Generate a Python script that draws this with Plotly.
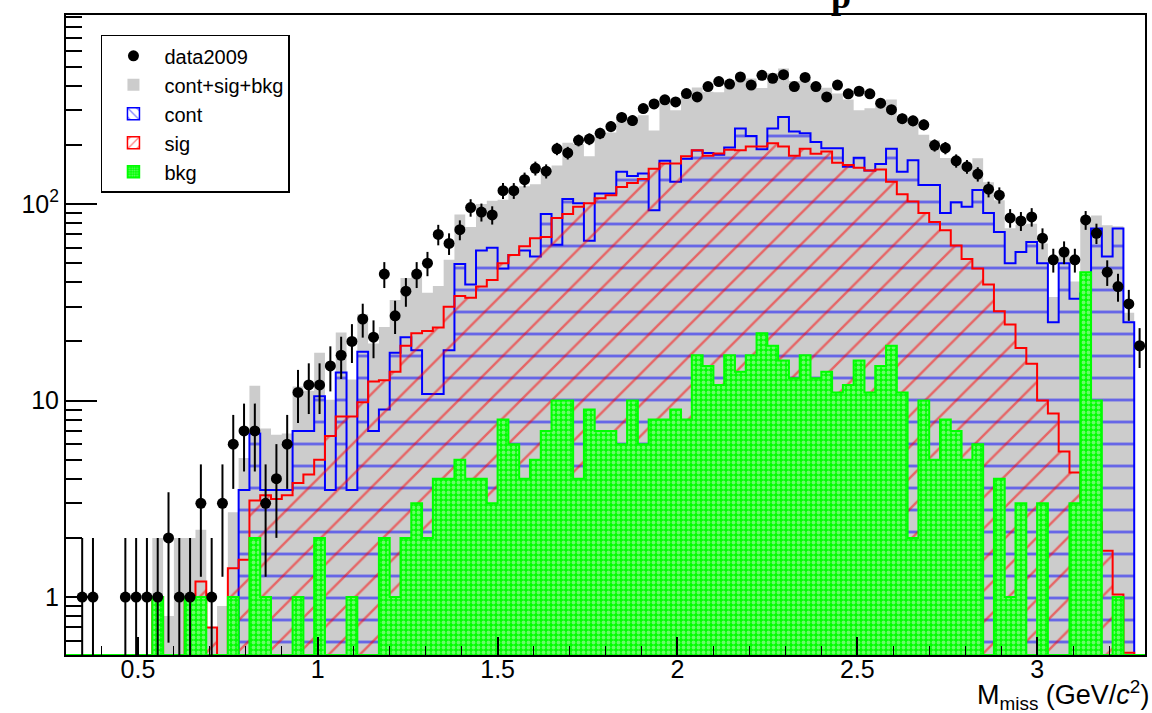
import numpy as np
import plotly.graph_objects as go

# ---------------- data (100 bins of 0.03 GeV/c^2 from 0.3 to 3.3) ----------------
x_lo, x_hi, n_bins = 0.3, 3.3, 100

data2009 = [0, 1, 1, 0, 0, 1, 1, 1, 1, 2,
            1, 1, 3, 1, 3, 6, 7, 7, 3, 4,
            6, 11, 12, 12, 15, 17, 20, 26, 21, 44,
            27, 36, 44, 50, 70, 63, 74, 96, 91, 88,
            117, 117, 133, 152, 147, 191, 182, 211, 214, 229,
            248, 276, 266, 306, 323, 339, 331, 365, 351, 396,
            420, 408, 443, 403, 452, 436, 455, 396, 441, 396,
            351, 403, 364, 375, 364, 326, 302, 272, 265, 253,
            199, 193, 166, 155, 142, 119, 111, 85, 82, 86,
            67, 52, 57, 52, 83, 71, 45, 38, 31, 19]

cont = [0, 0, 0, 0, 0, 0, 0, 0, 0, 0,
        0, 0, 0, 0, 0, 0.3, 3.5, 6.8, 3.5, 3.5,
        3.5, 7, 7, 10.5, 3.5, 13.9, 3.5, 17.7, 7, 9,
        17.5, 21, 18, 10.8, 10.8, 18, 49.5, 39, 58, 60,
        47, 55, 58, 54, 89, 62, 106, 101, 65, 113,
        113, 146, 139, 143, 93, 166, 130, 170, 187, 182,
        178, 194, 242, 222, 190, 242, 277, 234, 229, 207,
        192, 192, 155, 172, 148, 160, 191, 146, 167, 125,
        125, 90, 102, 97, 118, 90, 72, 50, 57, 64,
        50, 25, 50, 33, 35, 75, 54, 75, 25, 0]

sig = [0, 0, 0, 0, 0, 0, 0, 0, 1.0, 0.4,
       0.4, 1.0, 1.2, 0.7, 0.3, 1.4, 1.55, 3.1, 3.3, 3.15,
       3.3, 3.8, 4.2, 5.0, 6.6, 8.3, 8.3, 9.8, 12.5, 12.7,
       14, 19, 22, 22.6, 23.5, 30, 34, 33.3, 38, 41,
       50, 55, 61, 67, 68, 85, 89, 97, 101, 107,
       111, 122, 128, 134, 151, 161, 161, 175, 188, 176,
       181, 189, 188, 196, 196, 204, 196, 176, 191, 180,
       185, 162, 158, 153, 148, 150, 130, 112, 103, 90,
       81, 73.5, 61.6, 52.5, 47, 39, 28.5, 24.4, 18.5, 15.4,
       10, 8.6, 5.5, 4.3, 3.2, 2.4, 1.72, 1.03, 0.52, 0]

bkg = [0, 0, 0, 0, 0, 0, 0, 0, 1, 0,
       0, 1, 1, 0, 0, 1, 0, 2, 1, 0,
       0, 1, 0, 2, 0, 0, 1, 0, 0, 2,
       1, 2, 3, 2, 4, 4, 5, 4, 4, 3,
       8, 6, 4, 5, 7, 10, 10, 4, 9, 7,
       7, 6, 10, 6, 8, 8, 9, 8, 17, 15,
       12, 17, 14, 17, 22, 19, 16, 13, 17, 13,
       14, 11, 12, 16, 11, 15, 19, 11, 2, 10,
       5, 8, 7, 5, 6, 0, 4, 1, 3, 0,
       3, 0, 0, 3, 45, 10, 0, 1, 0, 0]

total = [0, 0, 0, 0, 0, 0, 0, 0, 2.0, 0.8,
         2.0, 2.0, 2.2, 0.7, 0.9, 2.7, 5.1, 11.9, 7.2, 6.7,
         6.8, 11.8, 11.2, 17.5, 10.1, 22.2, 12.8, 27.5, 19.5, 23.7,
         32.5, 42, 43, 35.4, 38.3, 52, 88.5, 76.3, 100, 104,
         105, 116, 123, 126, 150, 157, 205, 202, 175, 227,
         231, 274, 277, 283, 237, 335, 300, 353, 392, 373,
         371, 400, 444, 435, 390, 465, 489, 423, 437, 400,
         391, 365, 340, 300, 307, 325, 340, 269, 272, 225,
         211, 171.5, 170.6, 154.5, 171, 129, 104.5, 75.4, 78.5, 79.4,
         63, 33.6, 55.5, 40.3, 83.2, 87.4, 78, 77, 28, 0]

x_ticks_major = [0.5, 1, 1.5, 2, 2.5, 3]
y_ticks_major = [1, 10, 100]
y_tick_text = ["1", "10", "10<sup>2</sup>"]
y_ticks_minor = [0.6, 0.7, 0.8, 0.9, 2, 3, 4, 5, 6, 7, 8, 9,
                 20, 30, 40, 50, 60, 70, 80, 90, 200, 300, 400, 500, 600, 700, 800, 900]

# ---------------- geometry helpers ----------------
y_log_range = [-0.295, 2.962]
y_floor = 10 ** y_log_range[0]
edges = x_lo + (x_hi - x_lo) / n_bins * np.arange(n_bins + 1)
centers = 0.5 * (edges[:-1] + edges[1:])


def step_xy(vals):
    v = np.maximum(np.asarray(vals, dtype=float), y_floor)
    return edges, np.append(v, v[-1])


FONT = "Liberation Sans, Arial, Helvetica, sans-serif"
GRAY = "#cccccc"
BLUE = "#0000ff"
RED = "#ff0000"
GREEN = "#00ff00"
DOT = "#d2f7d2"

fig = go.Figure()

# gray total (cont+sig+bkg)
xs, ys = step_xy(total)
fig.add_trace(go.Scatter(x=xs, y=ys, mode="lines", line=dict(width=0, shape="hv", color=GRAY),
                         fill="tozeroy", fillcolor=GRAY, showlegend=False, hoverinfo="skip"))
# cont (blue hatch)
xs, ys = step_xy(cont)
fig.add_trace(go.Scatter(x=xs, y=ys, mode="lines", line=dict(width=2, shape="hv", color=BLUE),
                         fill="tozeroy", fillcolor="rgba(0,0,0,0)",
                         fillpattern=dict(shape="-", fgcolor=BLUE, bgcolor="rgba(0,0,0,0)",
                                          size=22, solidity=0.13),
                         showlegend=False, hoverinfo="skip"))
# sig (red hatch)
xs, ys = step_xy(sig)
fig.add_trace(go.Scatter(x=xs, y=ys, mode="lines", line=dict(width=2, shape="hv", color=RED),
                         fill="tozeroy", fillcolor="rgba(0,0,0,0)",
                         fillpattern=dict(shape="/", fgcolor=RED, bgcolor="rgba(0,0,0,0)",
                                          size=22, solidity=0.11),
                         showlegend=False, hoverinfo="skip"))
# bkg (green dotted)
xs, ys = step_xy(bkg)
fig.add_trace(go.Scatter(x=xs, y=ys, mode="lines", line=dict(width=2, shape="hv", color=GREEN),
                         fill="tozeroy", fillcolor=GREEN,
                         fillpattern=dict(shape=".", fgcolor=DOT, bgcolor=GREEN,
                                          size=5, solidity=0.45),
                         showlegend=False, hoverinfo="skip"))

# data points
dvals = np.asarray(data2009, dtype=float)
dplot = np.where(dvals > 0, dvals, np.nan)
derr = np.sqrt(dvals)
fig.add_trace(go.Scatter(x=centers, y=dplot, mode="markers", name="data2009",
                         marker=dict(color="black", size=11, symbol="circle"),
                         error_y=dict(type="data", array=derr, visible=True, color="black",
                                      thickness=2, width=0),
                         legendrank=1, hoverinfo="skip"))

# legend entries for the histograms
fig.add_trace(go.Bar(x=[None], y=[None], name="cont+sig+bkg", legendrank=2,
                     marker=dict(color=GRAY, line=dict(width=0))))
fig.add_trace(go.Bar(x=[None], y=[None], name="cont", legendrank=3,
                     marker=dict(color="white", line=dict(color=BLUE, width=1.5),
                                 pattern=dict(shape="\\", fgcolor=BLUE, bgcolor="white",
                                              size=8, solidity=0.2))))
fig.add_trace(go.Bar(x=[None], y=[None], name="sig", legendrank=4,
                     marker=dict(color="white", line=dict(color=RED, width=1.5),
                                 pattern=dict(shape="/", fgcolor=RED, bgcolor="white",
                                              size=8, solidity=0.2))))
fig.add_trace(go.Bar(x=[None], y=[None], name="bkg", legendrank=5,
                     marker=dict(color=GREEN, line=dict(color=GREEN, width=1.5),
                                 pattern=dict(shape=".", fgcolor=DOT, bgcolor=GREEN,
                                              size=3, solidity=0.4))))

fig.update_layout(
    width=1152, height=713,
    margin=dict(l=66, r=5, t=15, b=58),
    paper_bgcolor="white", plot_bgcolor="white",
    font=dict(family=FONT, color="black"),
    barmode="overlay",
    hovermode=False,
    showlegend=True,
    legend=dict(x=0.0324, y=0.969, xanchor="left", yanchor="top",
                bgcolor="white", bordercolor="black", borderwidth=1.5,
                font=dict(size=20, family=FONT, color="black"),
                itemwidth=52, tracegroupgap=0),
    xaxis=dict(range=[x_lo, x_hi], showgrid=False, zeroline=False,
               showline=True, linecolor="black", linewidth=2, mirror=True,
               ticks="inside", tickvals=x_ticks_major, ticklen=18, tickwidth=1.5, tickcolor="black",
               tickfont=dict(size=25, family=FONT, color="black"),
               ticklabelstandoff=-9,
               minor=dict(dtick=0.1, tick0=0, ticks="inside", ticklen=9, tickwidth=1.2,
                          tickcolor="black", showgrid=False)),
    yaxis=dict(type="log", range=y_log_range, showgrid=False, zeroline=False,
               showline=True, linecolor="black", linewidth=2, mirror=True,
               ticks="inside", tickvals=y_ticks_major, ticktext=y_tick_text,
               ticklen=31, tickwidth=1.5, tickcolor="black",
               tickfont=dict(size=25, family=FONT, color="black"),
               minor=dict(tickvals=y_ticks_minor, ticks="inside", ticklen=16, tickwidth=1.5,
                          tickcolor="black", showgrid=False)),
)

# x-axis title, right aligned as in ROOT
fig.add_annotation(text="M<sub>miss</sub> (GeV/<i>c</i><sup>2</sup>)", xref="paper", yref="paper",
                   x=1.0, y=-0.0625, xanchor="right", yanchor="middle", showarrow=False,
                   xshift=6, font=dict(size=27, family=FONT, color="black"))
# clipped title at the very top of the canvas
fig.add_annotation(text="<b>p</b>", xref="paper", yref="paper", x=0.718, y=1.03,
                   xanchor="center", yanchor="middle", showarrow=False,
                   font=dict(size=36, family="Liberation Serif, serif", color="black"))

fig.write_html("out.html", include_plotlyjs=True, full_html=True,
               config={"displayModeBar": False},
               post_script="document.body.style.margin='0';document.body.style.overflow='hidden';")
